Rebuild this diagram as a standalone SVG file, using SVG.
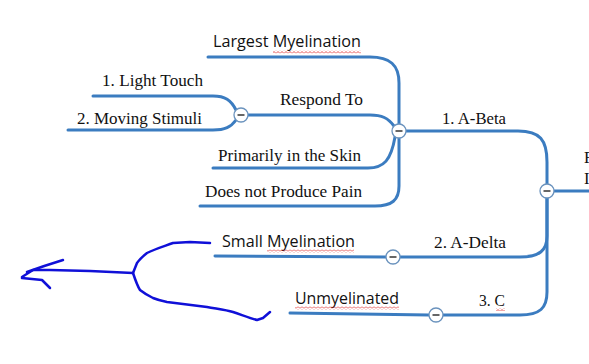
<svg xmlns="http://www.w3.org/2000/svg" width="589" height="364" viewBox="0 0 589 364">
<defs>
<style>
.ln{fill:none;stroke:#3b7cc0;stroke-width:3;stroke-linecap:round}
.tm{font-family:"Liberation Serif","Times New Roman",serif;font-size:16.5px;fill:#111}
.sg{font-family:"Open Sans","Noto Sans",sans-serif;font-size:15.5px;fill:#111}
.cc{fill:#fff;stroke:#6a92bd;stroke-width:1.3}
.mn{stroke:#333;stroke-width:1.5}
.ink{fill:none;stroke:#1010d8;stroke-width:2.5;stroke-linecap:round;stroke-linejoin:round}
</style>
<pattern id="wave" width="4" height="3" patternUnits="userSpaceOnUse">
<path d="M0,2.5 L2,0.5 L4,2.5" fill="none" stroke="#d22" stroke-width="0.8"/>
</pattern>
<symbol id="col" overflow="visible">
<circle class="cc" cx="0" cy="0" r="7"/>
<line class="mn" x1="-3.5" y1="0" x2="3.5" y2="0"/>
</symbol>
</defs>
<rect width="589" height="364" fill="#fff"/>
<g id="connectors">
<path class="ln" d="M554,191 H592"/>
<path class="ln" d="M547,184 V162 C547,140 540,131 518,131 H406"/>
<path class="ln" d="M547,198 V236 C547,250 540,257 520,257 H400"/>
<path class="ln" d="M547,198 V292 C547,308 540,315 520,315 H443"/>
<path class="ln" d="M386,257 L300,256.5 L215,256"/>
<path class="ln" d="M429,315 L360,314 L290,313"/>
<path class="ln" d="M399,124 V83 C399,65 390,57 370,57 H208"/>
<path class="ln" d="M394,126 C388,118 382,115 370,115 H248"/>
<path class="ln" d="M395,137 C391,160 384,168 368,168 H213"/>
<path class="ln" d="M399,138 V186 C399,200 392,206 375,206 H200"/>
<path class="ln" d="M236,110 C231,100 225,96 213,96 H93"/>
<path class="ln" d="M236,120 C231,127 225,130 213,130 H68"/>
</g>
<g id="root">
<use href="#col" x="547" y="191"/>
<text class="tm" x="584" y="163">F</text>
<text class="tm" x="584" y="184">I</text>
</g>
<g id="a-beta">
<use href="#col" x="399" y="131"/>
<text class="tm" x="442" y="124" textLength="64" lengthAdjust="spacingAndGlyphs">1. A-Beta</text>
</g>
<g id="largest">
<text class="sg" x="213" y="47" textLength="148" lengthAdjust="spacingAndGlyphs">Largest Myelination</text>
<rect x="273" y="50.5" width="88" height="3" fill="url(#wave)"/>
</g>
<g id="respond">
<use href="#col" x="241" y="115"/>
<text class="tm" x="280" y="105" textLength="83" lengthAdjust="spacingAndGlyphs">Respond To</text>
</g>
<g id="light-touch">
<text class="tm" x="102" y="86" textLength="101" lengthAdjust="spacingAndGlyphs">1. Light Touch</text>
</g>
<g id="moving">
<text class="tm" x="77" y="124" textLength="125" lengthAdjust="spacingAndGlyphs">2. Moving Stimuli</text>
</g>
<g id="skin">
<text class="tm" x="218" y="161" textLength="143" lengthAdjust="spacingAndGlyphs">Primarily in the Skin</text>
</g>
<g id="pain">
<text class="tm" x="205" y="197" textLength="157" lengthAdjust="spacingAndGlyphs">Does not Produce Pain</text>
</g>
<g id="a-delta">
<use href="#col" x="393" y="257"/>
<text class="tm" x="434" y="248" textLength="72" lengthAdjust="spacingAndGlyphs">2. A-Delta</text>
</g>
<g id="small">
<text class="sg" x="222" y="247" textLength="133" lengthAdjust="spacingAndGlyphs">Small Myelination</text>
<rect x="267" y="249.5" width="87" height="3" fill="url(#wave)"/>
</g>
<g id="c-fiber">
<use href="#col" x="436" y="315"/>
<text class="tm" x="479" y="306" textLength="26" lengthAdjust="spacingAndGlyphs">3. C</text>
<rect x="496" y="308" width="9" height="3" fill="url(#wave)"/>
</g>
<g id="unmyelinated">
<text class="sg" x="295" y="304" textLength="104" lengthAdjust="spacingAndGlyphs">Unmyelinated</text>
<rect x="295" y="306.5" width="104" height="3" fill="url(#wave)"/>
</g>
<g id="ink">
<path class="ink" d="M210,243 L190,242 L173,243 C165,246 155,249 147,253 C142,257 139,260 137,263 L133,273"/>
<path class="ink" d="M133,273 L90,271 L50,270 L33,270 L22,277"/>
<path class="ink" d="M27,272 C38,268 50,264 63,260" stroke-width="3.5"/>
<path class="ink" d="M22,278 L42,280 L50,288"/>
<path class="ink" d="M133,273 C136,282 138,287 140,290 C145,294 149,296 153,298 C158,300 162,301 167,302 L207,307 C218,309 226,310 233,312 C242,315 250,318 257,320 L263,318 L270,312"/>
</g>
</svg>
